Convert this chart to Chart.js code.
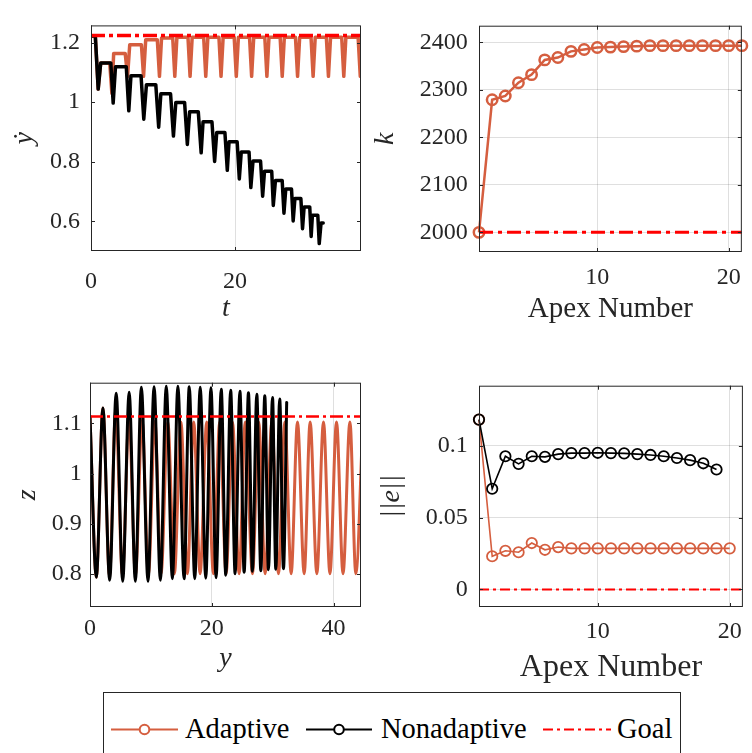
<!DOCTYPE html>
<html>
<head>
<meta charset="utf-8">
<script src="https://cdn.jsdelivr.net/npm/chart.js@4.4.1/dist/chart.umd.min.js"></script>
<style>
  html, body { margin: 0; padding: 0; background: #fff; }
  body { width: 752px; height: 753px; position: relative; overflow: hidden; font-family: 'Liberation Serif', serif; }
  canvas { position: absolute; }
  #legend { position: absolute; left: 103px; top: 692px; width: 576px; height: 80px; border: 1px solid #262626; background: #fff; }
  #legend svg { position: absolute; left: 0; top: 0; }
  .lg { position: absolute; top: 22px; font-size: 28.5px; line-height: 28px; color: #000; white-space: nowrap; }
</style>
</head>
<body>
<canvas id="tl" width="376" height="345" style="left:0px;top:0px"></canvas>
<canvas id="tr" width="392" height="345" style="left:360px;top:0px"></canvas>
<canvas id="bl" width="376" height="330" style="left:0px;top:360px"></canvas>
<canvas id="br" width="392" height="330" style="left:360px;top:360px"></canvas>
<div id="legend">
  <svg width="576" height="78">
    <line x1="7" y1="36.5" x2="74" y2="36.5" stroke="#d55e3f" stroke-width="2"/>
    <circle cx="40.5" cy="36.5" r="4.8" fill="#fff" stroke="#d55e3f" stroke-width="2"/>
    <line x1="202" y1="36.5" x2="268" y2="36.5" stroke="#000" stroke-width="2"/>
    <circle cx="235" cy="36.5" r="4.8" fill="#fff" stroke="#000" stroke-width="2"/>
    <line x1="439" y1="36.5" x2="507" y2="36.5" stroke="#ff0000" stroke-width="2" stroke-dasharray="10 4 3 4"/>
  </svg>
  <span class="lg" style="left:81px">Adaptive</span>
  <span class="lg" style="left:277px">Nonadaptive</span>
  <span class="lg" style="left:513px">Goal</span>
</div>
<script>
// ---- data ----
const ADAPT = '#d55e3f', NONAD = '#000000', GOAL = '#ff0000';
const SERIF = "'Liberation Serif', serif";

// top left: ydot vs t (plateau end, dip, next plateau start per hop)
const tlAdaptT = [0,
  0.6, 1.0, 1.35,   2.6, 2.9, 3.15,   4.75, 5.08, 5.38,   7.0, 7.3, 7.6,
  9.21, 9.51, 9.8,  11.35, 11.64, 11.93,  13.47, 13.76, 14.05,  15.65, 15.94, 16.23,
  17.77, 18.06, 18.35,  19.89, 20.18, 20.47,  22.02, 22.31, 22.6,  24.14, 24.43, 24.72,
  26.27, 26.56, 26.85,  28.4, 28.69, 28.98,  30.56, 30.85, 31.14,  32.69, 32.98, 33.27,
  34.82, 35.11, 35.4,  37.1, 37.4, 37.7];
const tlAdaptV = [1.222,
  1.222, 1.044, 1.132,  1.132, 1.03, 1.164,  1.164, 1.087, 1.193,  1.193, 1.087, 1.21,
  1.21, 1.087, 1.216,  1.216, 1.087, 1.218,  1.218, 1.087, 1.218,  1.218, 1.087, 1.218,
  1.218, 1.087, 1.218,  1.218, 1.087, 1.218,  1.218, 1.087, 1.218,  1.218, 1.087, 1.218,
  1.218, 1.087, 1.218,  1.218, 1.087, 1.218,  1.218, 1.087, 1.218,  1.218, 1.087, 1.218,
  1.218, 1.087, 1.218,  1.218, 1.087, 1.218];
const tlNonT = [0,
  0.6, 1.0, 1.35,   2.75, 3.08, 3.4,   4.9, 5.25, 5.55,   6.95, 7.33, 7.7,
  9.0, 9.4, 9.7,   11.05, 11.45, 11.78,   13.0, 13.38, 13.7,   14.9, 15.3, 15.56,
  16.8, 17.17, 17.46,   18.6, 18.93, 19.17,   20.3, 20.6, 20.87,   21.95, 22.2, 22.5,
  23.55, 23.84, 24.1,   25.1, 25.32, 25.62,   26.55, 26.8, 27.05,   27.85, 28.08, 28.32,
  29.15, 29.38, 29.6,   30.38, 30.58, 30.75,   31.5, 31.7, 31.95,
  32.25];
const tlNonV = [1.222,
  1.222, 1.044, 1.132,  1.132, 0.997, 1.119,  1.119, 0.971, 1.089,  1.089, 0.943, 1.059,
  1.059, 0.916, 1.028,  1.028, 0.886, 0.999,  0.999, 0.858, 0.968,  0.968, 0.830, 0.934,
  0.934, 0.801, 0.898,  0.898, 0.771, 0.867,  0.867, 0.742, 0.833,  0.833, 0.713, 0.802,
  0.802, 0.684, 0.768,  0.768, 0.653, 0.737,  0.737, 0.627, 0.708,  0.708, 0.601, 0.676,
  0.676, 0.575, 0.648,  0.648, 0.549, 0.620,  0.620, 0.525, 0.594,
  0.594];
const tlGoalT = [0, 37.5];
const tlGoalV = [1.224, 1.224];

// top right: k per apex
const trApex = [1, 2, 3, 4, 5, 6, 7, 8, 9, 10, 11, 12, 13, 14, 15, 16, 17, 18, 19, 20, 21];
const trK = [2000, 2279, 2287, 2315, 2332, 2363, 2368, 2381, 2385, 2389, 2390, 2391, 2392,
  2393, 2393, 2393, 2393, 2393, 2393, 2393, 2393];
const trGoalX = [1, 21];
const trGoalK = [2000, 2000];

// bottom left: z vs y (apex / bottom points)
const blAdaptY = [0, 1.04, 2.12, 3.2, 4.22, 5.33, 6.4, 7.47, 8.55, 9.6, 10.65, 11.67,
  12.77, 13.86, 14.93, 15.99, 17.03, 18.08, 19.17, 20.27, 21.3, 22.35, 23.39, 24.49,
  25.5, 26.68, 27.7, 28.76, 29.86, 30.95, 32.0, 33.03, 34.07, 35.17, 36.15, 37.25,
  38.34, 39.4, 40.48, 41.55, 42.68, 43.65, 44.8];
const blAdaptZ = [1.114, 0.793, 1.131, 0.795, 1.127, 0.797, 1.112, 0.798, 1.106, 0.799, 1.104, 0.800,
  1.103, 0.800, 1.103, 0.800, 1.103, 0.800, 1.103, 0.800, 1.103, 0.800, 1.103, 0.800,
  1.103, 0.800, 1.103, 0.800, 1.103, 0.800, 1.103, 0.800, 1.103, 0.800, 1.103, 0.800,
  1.103, 0.800, 1.103, 0.800, 1.103, 0.800, 1.103];
const blNonY = [0, 1.04, 2.12, 3.23, 4.3, 5.37, 6.43, 7.45, 8.43, 9.53, 10.52, 11.56,
  12.52, 13.53, 14.43, 15.45, 16.3, 17.2, 18.1, 19.01, 19.86, 20.7, 21.55, 22.3,
  23.1, 23.83, 24.62, 25.31, 26.02, 26.67, 27.39, 28.05, 28.7, 29.3, 29.97, 30.51,
  31.15, 31.77, 32.3];
const blNonZ = [1.114, 0.793, 1.131, 0.787, 1.160, 0.785, 1.162, 0.785, 1.172, 0.785, 1.173, 0.787,
  1.174, 0.790, 1.174, 0.790, 1.173, 0.790, 1.172, 0.791, 1.171, 0.792, 1.168, 0.797,
  1.166, 0.800, 1.164, 0.803, 1.161, 0.805, 1.158, 0.806, 1.155, 0.808, 1.152, 0.809,
  1.149, 0.810, 1.142];
const blGoalY = [0, 44.5];
const blGoalZ = [1.114, 1.114];

// bottom right: error norm per apex
const brApexAdapt = [1, 2, 3, 4, 5, 6, 7, 8, 9, 10, 11, 12, 13, 14, 15, 16, 17, 18, 19, 20];
const brErrAdapt = [0.1182, 0.0231, 0.0269, 0.0259, 0.0323, 0.0276, 0.0295, 0.0286, 0.0286, 0.0286,
  0.0286, 0.0286, 0.0286, 0.0286, 0.0286, 0.0286, 0.0286, 0.0286, 0.0286, 0.0286];
const brApexNon = [1, 2, 3, 4, 5, 6, 7, 8, 9, 10, 11, 12, 13, 14, 15, 16, 17, 18, 19];
const brErrNon = [0.1182, 0.0701, 0.0927, 0.0874, 0.0927, 0.0923, 0.0942, 0.0949, 0.0949, 0.0951,
  0.0949, 0.0947, 0.0942, 0.0936, 0.0927, 0.0915, 0.0900, 0.0878, 0.0835];
const brGoalX = [1, 21];
const brGoalE = [0, 0];

// tick values and labels
const tlXTicks = [0, 20], tlXLabels = ['0', '20'];
const tlYTicks = [0.6, 0.8, 1, 1.2], tlYLabels = ['0.6', '0.8', '1', '1.2'];
const trXTicks = [10, 20], trXLabels = ['10', '20'];
const trYTicks = [2000, 2100, 2200, 2300, 2400], trYLabels = ['2000', '2100', '2200', '2300', '2400'];
const blXTicks = [0, 20, 40], blXLabels = ['0', '20', '40'];
const blYTicks = [0.8, 0.9, 1, 1.1], blYLabels = ['0.8', '0.9', '1', '1.1'];
const brXTicks = [10, 20], brXLabels = ['10', '20'];
const brYTicks = [0, 0.05, 0.1], brYLabels = ['0', '0.05', '0.1'];

// ---- helpers ----
function pts(xs, ys) { return xs.map((x, i) => ({ x: x, y: ys[i] })); }

// matlab-like box with inward ticks on all four sides
const frameTicks = {
  id: 'frameTicks',
  afterDatasetsDraw(chart) {
    const { ctx, chartArea: a, scales } = chart;
    const len = 4;
    ctx.save();
    ctx.strokeStyle = '#262626';
    ctx.lineWidth = 1;
    ctx.beginPath();
    scales.x.ticks.forEach(t => {
      const px = Math.round(scales.x.getPixelForValue(t.value)) + 0.5;
      ctx.moveTo(px, a.bottom); ctx.lineTo(px, a.bottom - len);
      ctx.moveTo(px, a.top); ctx.lineTo(px, a.top + len);
    });
    scales.y.ticks.forEach(t => {
      const py = Math.round(scales.y.getPixelForValue(t.value)) + 0.5;
      ctx.moveTo(a.left, py); ctx.lineTo(a.left + len, py);
      ctx.moveTo(a.right, py); ctx.lineTo(a.right - len, py);
    });
    ctx.stroke();
    ctx.strokeRect(a.left + 0.5, a.top + 0.5, a.right - a.left - 1, a.bottom - a.top - 1);
    ctx.restore();
  }
};

function scaleOpts(ax, size, horiz) {
  return {
    type: 'linear', min: ax.min, max: ax.max,
    afterBuildTicks: s => { s.ticks = ax.ticks.map(v => ({ value: v })); },
    afterFit: s => { if (horiz) s.height = size; else s.width = size; },
    grid: { display: ax.grid, color: 'rgba(38,38,38,0.15)', lineWidth: 1, drawTicks: false },
    border: { display: false },
    ticks: {
      padding: ax.pad, color: '#262626', maxRotation: 0, autoSkip: false,
      font: { family: SERIF, size: 24 },
      callback: (v, i) => ax.labels[i]
    },
    title: {
      display: true, text: ax.title, color: '#262626',
      font: { family: SERIF, size: ax.tsize || 28, style: ax.tstyle || 'italic' },
      padding: horiz ? { top: 0, bottom: ax.tpad } : { top: ax.tpad, bottom: 0 }
    }
  };
}

function makeChart(id, box, xAx, yAx, datasets) {
  const cv = document.getElementById(id);
  return new Chart(cv, {
    type: 'line',
    data: { datasets: datasets },
    options: {
      responsive: false, animation: false, devicePixelRatio: 1,
      layout: { autoPadding: false, padding: { left: 0, top: box.top, right: cv.width - box.right, bottom: 0 } },
      plugins: { legend: { display: false }, tooltip: { enabled: false } },
      scales: {
        x: scaleOpts(xAx, cv.height - box.bottom, true),
        y: scaleOpts(yAx, box.left, false)
      }
    },
    plugins: [frameTicks]
  });
}

function goalSet(xs, ys, w, dash) {
  return { data: pts(xs, ys), borderColor: GOAL, borderWidth: w, borderDash: dash, pointRadius: 0, clip: 0 };
}
function curveSet(xs, ys, color, w, smooth) {
  return {
    data: pts(xs, ys), borderColor: color, borderWidth: w, pointRadius: 0, clip: 0,
    borderJoinStyle: 'round', borderCapStyle: 'round',
    cubicInterpolationMode: smooth ? 'monotone' : 'default'
  };
}
function markSet(xs, ys, color, w, pw) {
  return {
    data: pts(xs, ys), borderColor: color, borderWidth: w, clip: false,
    pointRadius: 5.2, pointBorderWidth: pw, pointBorderColor: color,
    pointBackgroundColor: 'rgba(0,0,0,0)'
  };
}

// ---- charts (dataset 0 is drawn on top) ----
makeChart('tl', { left: 91, right: 361, top: 8, bottom: 251 },
  { min: 0, max: 37.5, ticks: tlXTicks, labels: tlXLabels, grid: true, pad: 16.6, title: 't', tpad: 19.2 },
  { min: 0.5, max: 1.258, ticks: tlYTicks, labels: tlYLabels, grid: false, pad: 11, title: 'ẏ', tpad: 7.5 },
  [goalSet(tlGoalT, tlGoalV, 3.5, [14, 4, 4, 4]),
   curveSet(tlNonT, tlNonV, NONAD, 3.5, false),
   curveSet(tlAdaptT, tlAdaptV, ADAPT, 3.5, false)]);

makeChart('tr', { left: 119, right: 388, top: 10, bottom: 252 },
  { min: 1, max: 21, ticks: trXTicks, labels: trXLabels, grid: true, pad: 11.1, title: 'Apex Number', tstyle: 'normal', tsize: 29, tpad: 18.2 },
  { min: 1958.6, max: 2435, ticks: trYTicks, labels: trYLabels, grid: true, pad: 11.3, title: 'k', tpad: 9.2 },
  [goalSet(trGoalX, trGoalK, 3, [14, 5, 4, 5]),
   markSet(trApex, trK, ADAPT, 2.5, 2.5)]);

makeChart('bl', { left: 90, right: 361, top: 8, bottom: 247 },
  { min: 0, max: 44.5, ticks: blXTicks, labels: blXLabels, grid: true, pad: 7.3, title: 'y', tpad: 14.2 },
  { min: 0.7335, max: 1.1813, ticks: blYTicks, labels: blYLabels, grid: false, pad: 8.3, title: 'z', tpad: 11 },
  [goalSet(blGoalY, blGoalZ, 2.5, [13, 4, 3, 4]),
   curveSet(blNonY, blNonZ, NONAD, 3, true),
   curveSet(blAdaptY, blAdaptZ, ADAPT, 3, true)]);

makeChart('br', { left: 119, right: 388, top: 8, bottom: 247 },
  { min: 1, max: 21, ticks: brXTicks, labels: brXLabels, grid: true, pad: 10.1, title: 'Apex Number', tstyle: 'normal', tsize: 32, tpad: 3.6 },
  { min: -0.0122, max: 0.1418, ticks: brYTicks, labels: brYLabels, grid: true, pad: 11.3, title: '||e||', tpad: 15.2 },
  [goalSet(brGoalX, brGoalE, 2, [10, 4, 3, 4]),
   markSet(brApexNon, brErrNon, NONAD, 1.6, 1.8),
   markSet(brApexAdapt, brErrAdapt, ADAPT, 1.6, 1.8)]);
</script>
</body>
</html>
